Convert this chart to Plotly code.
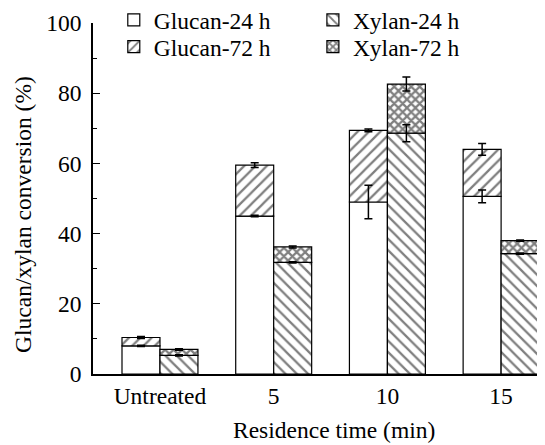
import plotly.graph_objects as go

categories = ["Untreated", "5", "10", "15"]
glucan_24 = [8.0, 45.0, 49.0, 50.6]
glucan_24_err = [0.2, 0.2, 4.8, 1.8]
glucan_72 = [10.4, 59.5, 69.4, 64.0]
glucan_72_err = [0.3, 0.7, 0.4, 1.7]
xylan_24 = [5.3, 31.8, 68.6, 34.3]
xylan_24_err = [0.2, 0.2, 2.4, 0.2]
xylan_72 = [7.0, 36.2, 82.6, 38.0]
xylan_72_err = [0.2, 0.3, 2.0, 0.2]
x_title = "Residence time (min)"
y_title = "Glucan/xylan conversion (%)"

FONT = "Liberation Serif"
FS = 23.5
bw = 0.334
xi = list(range(len(categories)))
xg = [i - bw / 2 for i in xi]
xx = [i + bw / 2 for i in xi]

line = dict(color="black", width=1.2)
fig = go.Figure()
fig.add_trace(go.Bar(x=xg, y=glucan_24, width=bw, name="Glucan-24 h",
                     marker=dict(color="white", line=line), legend="legend"))
fig.add_trace(go.Bar(x=xg, y=[a - b for a, b in zip(glucan_72, glucan_24)], base=glucan_24,
                     width=bw, name="Glucan-72 h",
                     marker=dict(color="white", line=line,
                                 pattern=dict(shape="/", fgcolor="black", bgcolor="white", size=8, solidity=0.28)),
                     legend="legend2"))
fig.add_trace(go.Bar(x=xx, y=xylan_24, width=bw, name="Xylan-24 h",
                     marker=dict(color="white", line=line,
                                 pattern=dict(shape="\\", fgcolor="black", bgcolor="white", size=8, solidity=0.28)),
                     legend="legend3"))
fig.add_trace(go.Bar(x=xx, y=[a - b for a, b in zip(xylan_72, xylan_24)], base=xylan_24,
                     width=bw, name="Xylan-72 h",
                     marker=dict(color="white", line=line,
                                 pattern=dict(shape="x", fgcolor="black", bgcolor="white", size=6, solidity=0.6)),
                     legend="legend4"))

def err(xs, ys, es):
    return go.Scatter(x=xs, y=ys, mode="markers", marker=dict(size=0.1, color="black", opacity=0),
                      error_y=dict(type="data", array=es, visible=True, color="black", thickness=1.5, width=4),
                      showlegend=False, hoverinfo="skip")

fig.add_trace(err(xg, glucan_24, glucan_24_err))
fig.add_trace(err(xg, glucan_72, glucan_72_err))
fig.add_trace(err(xx, xylan_24, xylan_24_err))
fig.add_trace(err(xx, xylan_72, xylan_72_err))

leg = dict(font=dict(family=FONT, size=FS, color="black"), bgcolor="rgba(0,0,0,0)",
           xanchor="left", yanchor="middle", itemwidth=30, borderwidth=0)
fig.update_layout(
    width=545, height=445,
    margin=dict(l=85, r=8, t=15, b=79, autoexpand=False),
    paper_bgcolor="white", plot_bgcolor="white",
    barmode="overlay",
    font=dict(family=FONT, size=FS, color="black"),
    legend=dict(leg, x=0.046, y=1.008),
    legend2=dict(leg, x=0.046, y=0.932),
    legend3=dict(leg, x=0.4865, y=1.008),
    legend4=dict(leg, x=0.4865, y=0.932),
    xaxis=dict(range=[-0.589, 3.386], tickvals=xi, ticktext=categories, showline=True,
               linecolor="black", linewidth=1.5, ticks="", showgrid=False, zeroline=False,
               tickfont=dict(family=FONT, size=FS), automargin=False),
    yaxis=dict(range=[0, 100], tickvals=[0, 20, 40, 60, 80, 100], showline=True,
               linecolor="black", linewidth=1.5, ticks="inside", ticklen=7, tickwidth=1.2,
               tickcolor="black", showgrid=False, zeroline=False, ticklabelstandoff=5,
               minor=dict(tickvals=[10, 30, 50, 70, 90], ticks="inside", ticklen=4, tickcolor="black"),
               tickfont=dict(family=FONT, size=FS), automargin=False),
    annotations=[
        dict(text=x_title, xref="paper", yref="paper", x=0.533, y=-0.1595,
             xanchor="center", yanchor="middle", showarrow=False,
             font=dict(family=FONT, size=FS, color="black")),
        dict(text=y_title, xref="paper", yref="paper", x=-0.155, y=0.456, textangle=-90,
             xanchor="center", yanchor="middle", showarrow=False,
             font=dict(family=FONT, size=FS, color="black")),
    ],
)
fig.write_html("out.html")
